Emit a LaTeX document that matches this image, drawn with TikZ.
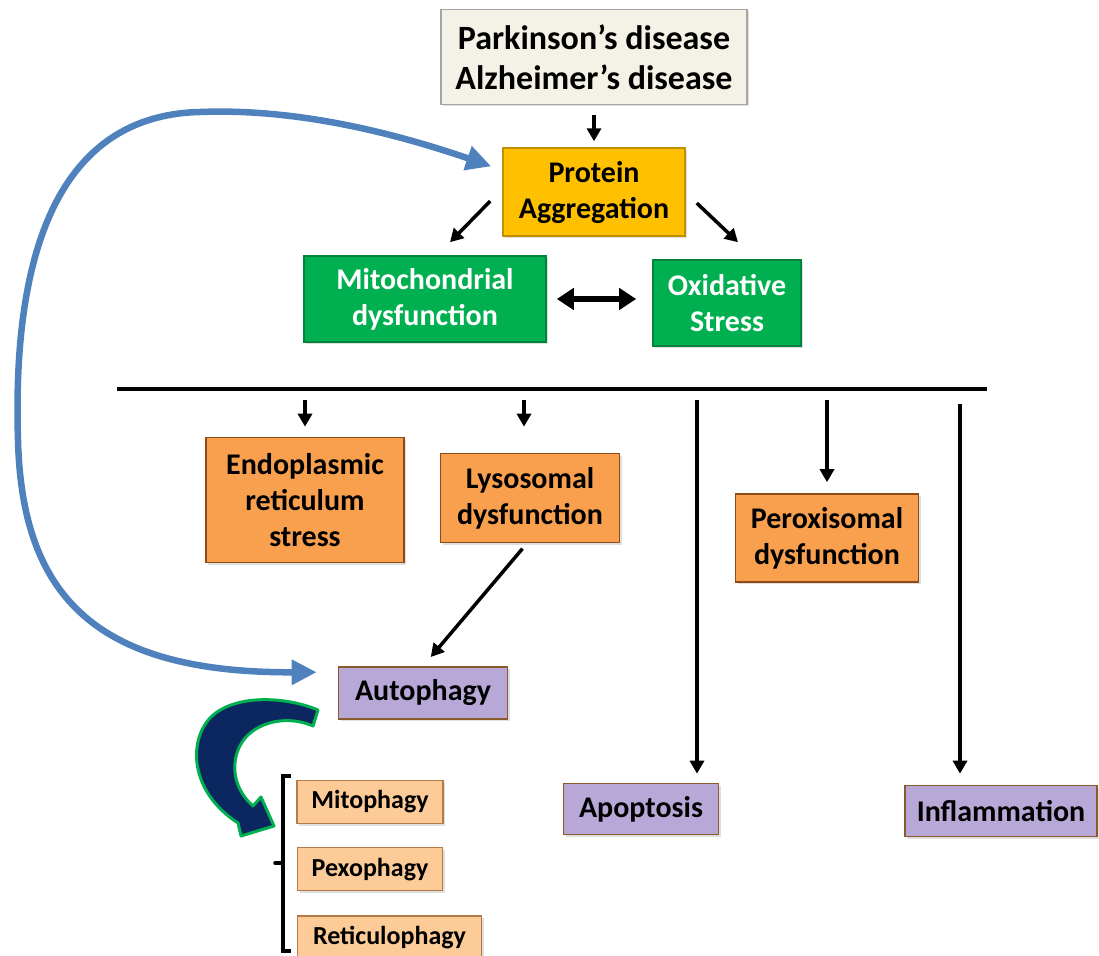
\documentclass[tikz,border=0pt]{standalone}
\usepackage{fontspec}
\setmainfont{Carlito}
\usetikzlibrary{arrows.meta,positioning,shadows}

\definecolor{pdfill}{HTML}{F4F2E6}
\definecolor{pdline}{HTML}{A5A5A5}
\definecolor{pafill}{HTML}{FFC000}
\definecolor{paline}{HTML}{C09000}
\definecolor{grfill}{HTML}{00B050}
\definecolor{grline}{HTML}{00843C}
\definecolor{orfill}{HTML}{F9A04F}
\definecolor{orline}{HTML}{8E4B16}
\definecolor{lvfill}{HTML}{B7A8D8}
\definecolor{lvline}{HTML}{8B5A2B}
\definecolor{phfill}{HTML}{FCCB98}
\definecolor{phline}{HTML}{B57A45}
\definecolor{arcblue}{HTML}{4F81BD}
\definecolor{navy}{HTML}{0C2660}

\begin{document}
\begin{tikzpicture}[x=1pt,y=-1pt,
  box/.style={draw,line width=1.6pt,align=center,inner sep=0pt,text=black,
    font=\fontsize{30}{36}\selectfont\bfseries,
    drop shadow={shadow xshift=2pt,shadow yshift=-2pt,opacity=0.25}},
  pdbox/.style={box,fill=pdfill,draw=pdline,minimum width=306pt,minimum height=95pt,
    font=\fontsize{34}{40}\selectfont\bfseries},
  pabox/.style={box,fill=pafill,draw=paline,minimum width=182pt,minimum height=88pt},
  grbox/.style={box,fill=grfill,draw=grline,text=white,minimum height=86pt},
  orbox/.style={box,fill=orfill,draw=orline},
  lvbox/.style={box,fill=lvfill,draw=lvline,minimum height=51pt},
  phbox/.style={box,fill=phfill,draw=phline,line width=1.2pt,minimum height=43pt,
    font=\fontsize{26}{30}\selectfont\bfseries},
  arw/.style={-{Triangle[length=13pt,width=14pt]},line width=3.5pt},
  dbl/.style={{Triangle[length=17pt,width=21pt]}-{Triangle[length=17pt,width=21pt]},line width=5.5pt},
  hbar/.style={line width=4pt},
  bluearc/.style={{Triangle[length=25pt,width=24pt]}-{Triangle[length=25pt,width=24pt]},
    line width=6.5pt,draw=arcblue,color=arcblue}]
\useasboundingbox (0,0) rectangle (1099,955);

% top of the cascade
\node[pdbox] (pd) at (594,57) {Parkinson’s disease\\Alzheimer’s disease};
\node[pabox,below=42pt of pd] (pa) {Protein\\Aggregation};
\node[grbox,minimum width=242pt] (mito) at (425,299) {Mitochondrial\\dysfunction};
\node[grbox,minimum width=148pt] (ox) at (727,303) {Oxidative\\Stress};

\draw[arw,shorten <=10pt,shorten >=6pt] (pd) -- (pa);
\draw[arw] ([shift={(-12,9)}]pa.west) -- ([shift={(25,-13)}]mito.north);
\draw[arw] ([shift={(11,11)}]pa.east) -- ([shift={(11,-17)}]ox.north);
\draw[dbl] ([xshift=10pt]mito.east) -- ([xshift=-16pt]ox.west |- mito.east);

% downstream stresses
\coordinate (barL) at (117,389);
\coordinate (barR) at (987,389);
\draw[hbar] (barL) -- (barR);

\node[orbox,minimum width=198pt,minimum height=125pt] (er) at (305,500) {Endoplasmic\\reticulum\\stress};
\node[orbox,minimum width=179pt,minimum height=89pt] (lyso) at (530,498) {Lysosomal\\dysfunction};
\node[orbox,minimum width=183pt,minimum height=88pt] (perox) at (827,538) {Peroxisomal\\dysfunction};
\node[lvbox,minimum width=169pt,minimum height=52pt] (auto) at (423,693) {Autophagy};
\node[lvbox,minimum width=155pt] (apop) at (641,809) {Apoptosis};
\node[lvbox,minimum width=192pt] (infl) at (1001,811) {Inflammation};

\draw[arw,shorten <=11pt,shorten >=10pt] (er.north |- barL) -- (er.north);
\draw[arw,shorten <=11pt,shorten >=26pt] ([xshift=-6pt]lyso.north |- barL) -- ([xshift=-6pt]lyso.north);
\draw[arw,shorten <=11pt,shorten >=11pt] (perox.north |- barL) -- (perox.north);
\draw[arw,shorten <=11pt,shorten >=9pt] ([xshift=56pt]apop.north |- barL) -- ([xshift=56pt]apop.north);
\draw[arw,shorten <=15pt,shorten >=11pt] ([xshift=-41pt]infl.north |- barL) -- ([xshift=-41pt]infl.north);
\draw[arw,shorten <=7pt,shorten >=12pt] ([xshift=-3pt]lyso.south) -- (auto.north);

% feedback loop
\draw[bluearc] ([shift={(-11,19)}]pa.north west) .. controls (400,135) and (300,108) .. (200,112)
  .. controls (60,115) and (12,250) .. (18,440)
  .. controls (22,600) and (100,673) .. ([shift={(-21,6)}]auto.north west);

% selective autophagy
\node[phbox,minimum width=146pt] (mitoph) at (370,802) {Mitophagy};
\node[phbox,minimum width=145pt,below=23pt of mitoph] (pexoph) {Pexophagy};
\node[phbox,minimum width=184pt,below=24pt of pexoph.south west,anchor=north west] (retic) {Reticulophagy};

\draw[fill=navy,draw=grfill,line width=3pt,line join=round]
  (318,710) .. controls (285,696) and (233,694) .. (210,718)
  .. controls (188,742) and (190,792) .. (238,823) -- (241,836) -- (274,826) -- (261,797) -- (253,806)
  .. controls (230,786) and (230,755) .. (246,737)
  .. controls (262,720) and (290,716) .. (313,726) -- cycle;

\draw[line width=3.5pt] (291,776) -- (283,776) -- (283,951) -- (291,951);
\draw[line width=3.5pt,line cap=round] (283,863) -- (275,863);
\end{tikzpicture}
\end{document}
